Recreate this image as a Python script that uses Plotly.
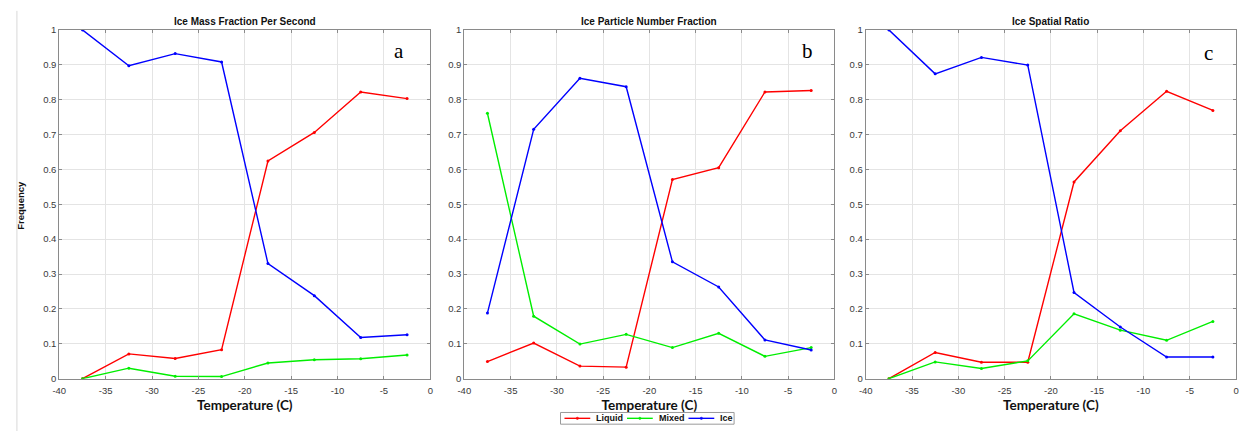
import plotly.graph_objects as go

# Temperature bin centres (deg C)
temperature = [-37.5, -32.5, -27.5, -22.5, -17.5, -12.5, -7.5, -2.5]

# (a) Ice mass fraction per second
mass_liquid = [0.0, 0.071, 0.058, 0.083, 0.624, 0.706, 0.822, 0.803]
mass_mixed = [0.0, 0.030, 0.007, 0.006, 0.045, 0.054, 0.057, 0.068]
mass_ice = [1.0, 0.897, 0.932, 0.908, 0.330, 0.238, 0.118, 0.126]

# (b) Ice particle number fraction
number_liquid = [0.049, 0.102, 0.036, 0.033, 0.571, 0.605, 0.822, 0.826]
number_mixed = [0.761, 0.179, 0.099, 0.127, 0.089, 0.130, 0.064, 0.089]
number_ice = [0.188, 0.715, 0.861, 0.837, 0.335, 0.263, 0.111, 0.082]

# (c) Ice spatial ratio
spatial_liquid = [0.0, 0.075, 0.047, 0.047, 0.564, 0.711, 0.824, 0.769]
spatial_mixed = [0.0, 0.048, 0.029, 0.051, 0.186, 0.139, 0.110, 0.164]
spatial_ice = [1.0, 0.874, 0.921, 0.899, 0.247, 0.148, 0.062, 0.062]

panel_titles = ["Ice Mass Fraction Per Second", "Ice Particle Number Fraction", "Ice Spatial Ratio"]
panel_letters = ["a", "b", "c"]
series_names = ["Liquid", "Mixed", "Ice"]
series_colors = ["#ff0000", "#00ee00", "#0000ff"]

x_tickvals = [-40, -35, -30, -25, -20, -15, -10, -5, 0]
x_ticktext = ["-40", "-35", "-30", "-25", "-20", "-15", "-10", "-5", "0"]
y_tickvals = [0, 0.1, 0.2, 0.3, 0.4, 0.5, 0.6, 0.7, 0.8, 0.9, 1.0]
y_ticktext = ["0", "0.1", "0.2", "0.3", "0.4", "0.5", "0.6", "0.7", "0.8", "0.9", "1"]

panels = [
    (mass_liquid, mass_mixed, mass_ice),
    (number_liquid, number_mixed, number_ice),
    (spatial_liquid, spatial_mixed, spatial_ice),
]

W, H = 1244, 436
# panel pixel extents (left, right); shared top / bottom
x_px = [(52.7, 426.7), (461.0, 834.0), (865.7, 1239.0)]
top_px, bottom_px = 24.5, 382.3
y_dom = [1 - bottom_px / H, 1 - top_px / H]
# letter label placement in data units, per panel
letter_pos = [(-3.4, 0.94), (-2.9, 0.94), (-3.0, 0.935)]

fig = go.Figure()
axis_col = "#8a8a8a"
grid_col = "#e4e4e4"
tick_font = dict(family="Liberation Sans, Arial, sans-serif", size=9.5, color="#3a3a3a")

for i, series in enumerate(panels):
    sfx = "" if i == 0 else str(i + 1)
    for name, col, vals in zip(series_names, series_colors, series):
        fig.add_trace(go.Scatter(
            x=temperature, y=vals, mode="lines+markers", name=name,
            line=dict(color=col, width=1.4),
            marker=dict(color=col, size=3),
            xaxis="x" + sfx, yaxis="y" + sfx,
            showlegend=False,
        ))
    common = dict(showline=True, linecolor=axis_col, linewidth=1, mirror="ticks",
                  ticks="inside", ticklen=3, tickcolor=axis_col,
                  showgrid=True, gridcolor=grid_col, gridwidth=1,
                  zeroline=False, tickfont=tick_font)
    xd = [x_px[i][0] / W, x_px[i][1] / W]
    fig.layout["xaxis" + sfx] = dict(domain=xd, range=[-40, 0], tickvals=x_tickvals,
                                     ticktext=x_ticktext, anchor="y" + sfx,
                                     ticklabelstandoff=3,
                                     title=dict(text="<b>Temperature (C)</b>",
                                                font=dict(family="Lato", size=13.5, color="#111"),
                                                standoff=5),
                                     **common)
    fig.layout["yaxis" + sfx] = dict(domain=y_dom, range=[0, 1], tickvals=y_tickvals,
                                     ticktext=y_ticktext, anchor="x" + sfx, **common)
    cx = (x_px[i][0] + x_px[i][1]) / 2 / W
    fig.add_annotation(x=cx, y=1 - 16 / H, xref="paper", yref="paper",
                       text="<b>" + panel_titles[i] + "</b>", showarrow=False,
                       font=dict(family="Liberation Sans, Arial", size=10, color="#111"),
                       xanchor="center", yanchor="middle")
    lx, ly = letter_pos[i]
    fig.add_annotation(x=lx, y=ly, xref="x" + sfx, yref="y" + sfx,
                       text=panel_letters[i], showarrow=False,
                       font=dict(family="Liberation Serif, Times New Roman, serif", size=21, color="#000"),
                       xanchor="center", yanchor="middle")

fig.add_annotation(x=14 / W, y=1 - 204 / H, xref="paper", yref="paper",
                   text="<b>Frequency</b>", showarrow=False, textangle=-90,
                   font=dict(family="Liberation Sans, Arial", size=9.5, color="#111"),
                   xanchor="center", yanchor="middle")

# thin page rule along the left edge
fig.add_shape(type="line", xref="paper", yref="paper", x0=10 / W, x1=10 / W,
              y0=0, y1=1 - 5 / H, line=dict(color="#d8d8d8", width=1))

# compact legend box below the middle panel
leg_left, leg_right, leg_top, leg_bot = 558, 733, 417, 429
leg_mid = (leg_top + leg_bot) / 2
fig.add_shape(type="rect", xref="paper", yref="paper",
              x0=leg_left / W, x1=leg_right / W, y0=1 - leg_bot / H, y1=1 - leg_top / H,
              line=dict(color="#9a9a9a", width=1), fillcolor="white")
leg_line_starts = [562, 625, 687]
for start, name, col in zip(leg_line_starts, series_names, series_colors):
    end = start + 26
    fig.add_shape(type="line", xref="paper", yref="paper",
                  x0=start / W, x1=end / W, y0=1 - leg_mid / H, y1=1 - leg_mid / H,
                  line=dict(color=col, width=1.4))
    mid = (start + end) / 2
    fig.add_shape(type="circle", xref="paper", yref="paper",
                  x0=(mid - 1.2) / W, x1=(mid + 1.2) / W,
                  y0=1 - (leg_mid + 1.2) / H, y1=1 - (leg_mid - 1.2) / H,
                  line=dict(color=col, width=0.5), fillcolor=col)
    fig.add_annotation(x=(end + 4) / W, y=1 - leg_mid / H, xref="paper", yref="paper",
                       text="<b>" + name + "</b>", showarrow=False,
                       font=dict(family="Liberation Sans, Arial", size=9, color="#111"),
                       xanchor="left", yanchor="middle")

fig.update_layout(
    width=W, height=H, margin=dict(l=0, r=0, t=0, b=0),
    paper_bgcolor="white", plot_bgcolor="white",
    showlegend=False,
)

fig.write_html("out.html")
